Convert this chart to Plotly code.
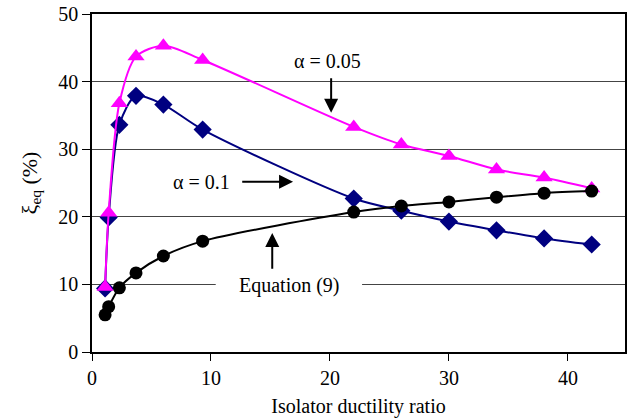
import plotly.graph_objects as go

ductility = [1.1, 1.4, 2.3, 3.7, 6.0, 9.3, 22, 26, 30, 34, 38, 42]
xi_alpha_005 = [9.6, 20.6, 36.8, 43.7, 45.3, 43.2, 33.3, 30.7, 29.0, 27.0, 25.8, 24.2]
xi_alpha_01 = [9.4, 19.9, 33.6, 37.9, 36.6, 32.9, 22.7, 20.9, 19.3, 18.0, 16.8, 15.9]
xi_eq9 = [5.5, 6.7, 9.5, 11.7, 14.2, 16.4, 20.7, 21.6, 22.2, 22.9, 23.5, 23.8]

FONT = "'Liberation Serif', 'Times New Roman', Tinos, 'DejaVu Serif', serif"

fig = go.Figure()
fig.add_trace(go.Scatter(
    x=ductility, y=xi_alpha_01, mode="lines+markers",
    line=dict(color="#000080", width=2, shape="spline", smoothing=0.8),
    marker=dict(symbol="diamond", size=14, color="#000080"),
    name="α = 0.1"))
fig.add_trace(go.Scatter(
    x=ductility, y=xi_alpha_005, mode="lines+markers",
    line=dict(color="#FF00FF", width=2, shape="spline", smoothing=0.8),
    marker=dict(symbol="triangle-up", size=15, color="#FF00FF"),
    name="α = 0.05"))
fig.add_trace(go.Scatter(
    x=ductility, y=xi_eq9, mode="lines+markers",
    line=dict(color="black", width=2, shape="spline", smoothing=0.8),
    marker=dict(symbol="circle", size=13, color="black"),
    name="Equation (9)"))

def arrow(x, y, ax, ay):
    fig.add_annotation(x=x, y=y, ax=ax, ay=ay, xref="x", yref="y",
                       axref="x", ayref="y", text="", showarrow=True,
                       arrowhead=2, arrowsize=1.4, arrowwidth=2,
                       arrowcolor="black", standoff=0, startstandoff=0)

def label(x, y, text):
    fig.add_annotation(x=x, y=y, xref="x", yref="y", text=text,
                       showarrow=False, font=dict(family=FONT, size=20, color="black"))

label(9.2, 25.2, "α = 0.1")
arrow(16.9, 25.2, 12.5, 25.2)
label(19.8, 43.1, "α = 0.05")
arrow(20.1, 35.4, 20.1, 40.7)
label(16.6, 9.9, "Equation (9)")
arrow(15.15, 17.6, 15.15, 12.1)

# white band hiding the gridline behind the "Equation (9)" label
fig.add_shape(type="rect", xref="x", yref="y", x0=10.4, x1=22.7, y0=9.0, y1=11.0,
              fillcolor="white", line=dict(width=0), layer="between")

fig.update_layout(
    width=630, height=418,
    margin=dict(l=92, r=5, t=14, b=66, autoexpand=False),
    paper_bgcolor="white", plot_bgcolor="white",
    showlegend=False,
    font=dict(family=FONT, size=20, color="black"),
    xaxis=dict(range=[0, 44.8], tickvals=[0, 10, 20, 30, 40],
               showgrid=False, zeroline=False, automargin=False,
               showline=True, linecolor="black", linewidth=1.5, mirror=True,
               ticks="outside", ticklen=7, tickcolor="black",
               title=dict(text="Isolator ductility ratio", font=dict(family=FONT, size=20)),
               tickfont=dict(family=FONT, size=20)),
    yaxis=dict(range=[0, 50], tickvals=[0, 10, 20, 30, 40, 50],
               showgrid=True, gridcolor="#444444", gridwidth=1,
               zeroline=False, automargin=False,
               showline=True, linecolor="black", linewidth=1.5, mirror=True,
               ticks="outside", ticklen=8, tickcolor="black",
               title=dict(text="ξ<sub>eq</sub> (%)", font=dict(family=FONT, size=22)),
               tickfont=dict(family=FONT, size=20)),
)

fig.write_html("out.html", config={"displayModeBar": False},
               post_script="document.body.style.margin='0';document.body.style.padding='0';")
